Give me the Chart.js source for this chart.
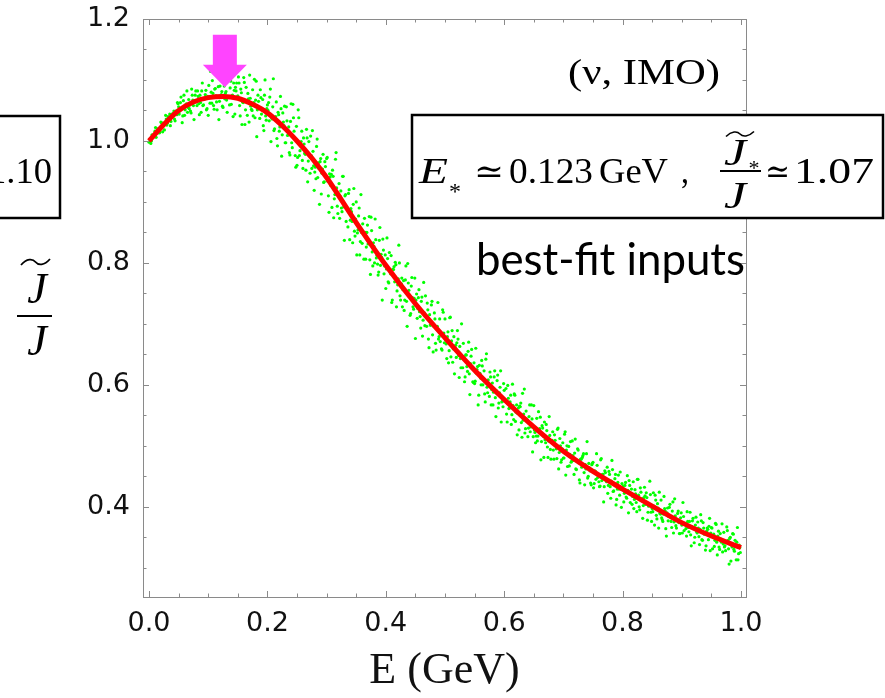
<!DOCTYPE html>
<html>
<head>
<meta charset="utf-8">
<script src="https://cdn.jsdelivr.net/npm/chart.js@4.4.1/dist/chart.umd.min.js"></script>
<style>
  html, body { margin: 0; padding: 0; background: #fff; }
  canvas { display: block; }
</style>
</head>
<body>
<canvas id="chartJ" width="885" height="698"></canvas>
<script>
// fitted curve J~/J versus E (GeV)
const curveE = [0, 0.025, 0.05, 0.075, 0.1, 0.125, 0.15, 0.175, 0.2, 0.225, 0.25, 0.275, 0.3,
  0.35, 0.4, 0.45, 0.5, 0.55, 0.6, 0.65, 0.7, 0.75, 0.8, 0.85, 0.9, 0.95, 1.0];
const curveJ = [1.000, 1.027, 1.050, 1.064, 1.071, 1.073, 1.070, 1.060, 1.046, 1.025, 1.000, 0.972, 0.940,
  0.866, 0.796, 0.733, 0.677, 0.624, 0.576, 0.531, 0.491, 0.458, 0.429, 0.401, 0.374, 0.352, 0.333];

// scattered points (green), two passes over the energy range
const scatterE = [
  0.001,0.003,0.005,0.007,0.009,0.011,0.013,0.015,0.017,0.019,0.021,0.023,0.025,0.027,0.029,0.031,0.033,0.035,0.037,0.039,0.041,0.043,0.045,0.047,0.049,
  0.051,0.053,0.055,0.057,0.059,0.061,0.063,0.065,0.067,0.069,0.071,0.073,0.075,0.077,0.079,0.081,0.083,0.085,0.087,0.089,0.091,0.093,0.095,0.097,0.099,
  0.101,0.103,0.105,0.107,0.109,0.111,0.113,0.115,0.117,0.119,0.121,0.123,0.125,0.127,0.129,0.131,0.133,0.135,0.137,0.139,0.141,0.143,0.145,0.147,0.149,
  0.151,0.153,0.155,0.157,0.159,0.161,0.163,0.165,0.167,0.169,0.171,0.173,0.175,0.177,0.179,0.181,0.183,0.185,0.187,0.189,0.191,0.193,0.195,0.197,0.199,
  0.201,0.203,0.205,0.207,0.209,0.211,0.213,0.215,0.217,0.219,0.221,0.223,0.225,0.227,0.229,0.231,0.233,0.235,0.237,0.239,0.241,0.243,0.245,0.247,0.249,
  0.251,0.253,0.255,0.257,0.259,0.261,0.263,0.265,0.267,0.269,0.271,0.273,0.275,0.277,0.279,0.281,0.283,0.285,0.287,0.289,0.291,0.293,0.295,0.297,0.299,
  0.301,0.303,0.305,0.307,0.309,0.311,0.313,0.315,0.317,0.319,0.321,0.323,0.325,0.327,0.329,0.331,0.333,0.335,0.337,0.339,0.341,0.343,0.345,0.347,0.349,
  0.351,0.353,0.355,0.357,0.359,0.361,0.363,0.365,0.367,0.369,0.371,0.373,0.375,0.377,0.379,0.381,0.383,0.385,0.387,0.389,0.391,0.393,0.395,0.397,0.399,
  0.401,0.403,0.405,0.407,0.409,0.411,0.413,0.415,0.417,0.419,0.421,0.423,0.425,0.427,0.429,0.431,0.433,0.435,0.437,0.439,0.441,0.443,0.445,0.447,0.449,
  0.451,0.453,0.455,0.457,0.459,0.461,0.463,0.465,0.467,0.469,0.471,0.473,0.475,0.477,0.479,0.481,0.483,0.485,0.487,0.489,0.491,0.493,0.495,0.497,0.499,
  0.501,0.503,0.505,0.507,0.509,0.511,0.513,0.515,0.517,0.519,0.521,0.523,0.525,0.527,0.529,0.531,0.533,0.535,0.537,0.539,0.541,0.543,0.545,0.547,0.549,
  0.551,0.553,0.555,0.557,0.559,0.561,0.563,0.565,0.567,0.569,0.571,0.573,0.575,0.577,0.579,0.581,0.583,0.585,0.587,0.589,0.591,0.593,0.595,0.597,0.599,
  0.601,0.603,0.605,0.607,0.609,0.611,0.613,0.615,0.617,0.619,0.621,0.623,0.625,0.627,0.629,0.631,0.633,0.635,0.637,0.639,0.641,0.643,0.645,0.647,0.649,
  0.651,0.653,0.655,0.657,0.659,0.661,0.663,0.665,0.667,0.669,0.671,0.673,0.675,0.677,0.679,0.681,0.683,0.685,0.687,0.689,0.691,0.693,0.695,0.697,0.699,
  0.701,0.703,0.705,0.707,0.709,0.711,0.713,0.715,0.717,0.719,0.721,0.723,0.725,0.727,0.729,0.731,0.733,0.735,0.737,0.739,0.741,0.743,0.745,0.747,0.749,
  0.751,0.753,0.755,0.757,0.759,0.761,0.763,0.765,0.767,0.769,0.771,0.773,0.775,0.777,0.779,0.781,0.783,0.785,0.787,0.789,0.791,0.793,0.795,0.797,0.799,
  0.801,0.803,0.805,0.807,0.809,0.811,0.813,0.815,0.817,0.819,0.821,0.823,0.825,0.827,0.829,0.831,0.833,0.835,0.837,0.839,0.841,0.843,0.845,0.847,0.849,
  0.851,0.853,0.855,0.857,0.859,0.861,0.863,0.865,0.867,0.869,0.871,0.873,0.875,0.877,0.879,0.881,0.883,0.885,0.887,0.889,0.891,0.893,0.895,0.897,0.899,
  0.901,0.903,0.905,0.907,0.909,0.911,0.913,0.915,0.917,0.919,0.921,0.923,0.925,0.927,0.929,0.931,0.933,0.935,0.937,0.939,0.941,0.943,0.945,0.947,0.949,
  0.951,0.953,0.955,0.957,0.959,0.961,0.963,0.965,0.967,0.969,0.971,0.973,0.975,0.977,0.979,0.981,0.983,0.985,0.987,0.989,0.991,0.993,0.995,0.997,0.999,
  0.000,0.002,0.004,0.006,0.008,0.010,0.012,0.014,0.016,0.018,0.020,0.022,0.024,0.026,0.028,0.030,0.032,0.034,0.036,0.038,0.040,0.042,0.044,0.046,0.048,
  0.050,0.052,0.054,0.056,0.058,0.060,0.062,0.064,0.066,0.068,0.070,0.072,0.074,0.076,0.078,0.080,0.082,0.084,0.086,0.088,0.090,0.092,0.094,0.096,0.098,
  0.100,0.102,0.104,0.106,0.108,0.110,0.112,0.114,0.116,0.118,0.120,0.122,0.124,0.126,0.128,0.130,0.132,0.134,0.136,0.138,0.140,0.142,0.144,0.146,0.148,
  0.150,0.152,0.154,0.156,0.158,0.160,0.162,0.164,0.166,0.168,0.170,0.172,0.174,0.176,0.178,0.180,0.182,0.184,0.186,0.188,0.190,0.192,0.194,0.196,0.198,
  0.200,0.202,0.204,0.206,0.208,0.210,0.212,0.214,0.216,0.218,0.220,0.222,0.224,0.226,0.228,0.230,0.232,0.234,0.236,0.238,0.240,0.242,0.244,0.246,0.248,
  0.250,0.252,0.254,0.256,0.258,0.260,0.262,0.264,0.266,0.268,0.270,0.272,0.274,0.276,0.278,0.280,0.282,0.284,0.286,0.288,0.290,0.292,0.294,0.296,0.298,
  0.300,0.302,0.304,0.306,0.308,0.310,0.312,0.314,0.316,0.318,0.320,0.322,0.324,0.326,0.328,0.330,0.332,0.334,0.336,0.338,0.340,0.342,0.344,0.346,0.348,
  0.350,0.352,0.354,0.356,0.358,0.360,0.362,0.364,0.366,0.368,0.370,0.372,0.374,0.376,0.378,0.380,0.382,0.384,0.386,0.388,0.390,0.392,0.394,0.396,0.398,
  0.400,0.402,0.404,0.406,0.408,0.410,0.412,0.414,0.416,0.418,0.420,0.422,0.424,0.426,0.428,0.430,0.432,0.434,0.436,0.438,0.440,0.442,0.444,0.446,0.448,
  0.450,0.452,0.454,0.456,0.458,0.460,0.462,0.464,0.466,0.468,0.470,0.472,0.474,0.476,0.478,0.480,0.482,0.484,0.486,0.488,0.490,0.492,0.494,0.496,0.498,
  0.500,0.502,0.504,0.506,0.508,0.510,0.512,0.514,0.516,0.518,0.520,0.522,0.524,0.526,0.528,0.530,0.532,0.534,0.536,0.538,0.540,0.542,0.544,0.546,0.548,
  0.550,0.552,0.554,0.556,0.558,0.560,0.562,0.564,0.566,0.568,0.570,0.572,0.574,0.576,0.578,0.580,0.582,0.584,0.586,0.588,0.590,0.592,0.594,0.596,0.598,
  0.600,0.602,0.604,0.606,0.608,0.610,0.612,0.614,0.616,0.618,0.620,0.622,0.624,0.626,0.628,0.630,0.632,0.634,0.636,0.638,0.640,0.642,0.644,0.646,0.648,
  0.650,0.652,0.654,0.656,0.658,0.660,0.662,0.664,0.666,0.668,0.670,0.672,0.674,0.676,0.678,0.680,0.682,0.684,0.686,0.688,0.690,0.692,0.694,0.696,0.698,
  0.700,0.702,0.704,0.706,0.708,0.710,0.712,0.714,0.716,0.718,0.720,0.722,0.724,0.726,0.728,0.730,0.732,0.734,0.736,0.738,0.740,0.742,0.744,0.746,0.748,
  0.750,0.752,0.754,0.756,0.758,0.760,0.762,0.764,0.766,0.768,0.770,0.772,0.774,0.776,0.778,0.780,0.782,0.784,0.786,0.788,0.790,0.792,0.794,0.796,0.798,
  0.800,0.802,0.804,0.806,0.808,0.810,0.812,0.814,0.816,0.818,0.820,0.822,0.824,0.826,0.828,0.830,0.832,0.834,0.836,0.838,0.840,0.842,0.844,0.846,0.848,
  0.850,0.852,0.854,0.856,0.858,0.860,0.862,0.864,0.866,0.868,0.870,0.872,0.874,0.876,0.878,0.880,0.882,0.884,0.886,0.888,0.890,0.892,0.894,0.896,0.898,
  0.900,0.902,0.904,0.906,0.908,0.910,0.912,0.914,0.916,0.918,0.920,0.922,0.924,0.926,0.928,0.930,0.932,0.934,0.936,0.938,0.940,0.942,0.944,0.946,0.948,
  0.950,0.952,0.954,0.956,0.958,0.960,0.962,0.964,0.966,0.968,0.970,0.972,0.974,0.976,0.978,0.980,0.982,0.984,0.986,0.988,0.990,0.992,0.994,0.996,0.998
];
const scatterJ = [
  1.003,0.996,1.010,1.009,1.007,1.022,1.013,1.020,1.013,1.021,1.030,1.015,1.029,1.027,1.036,1.029,1.035,1.044,1.032,1.043,1.041,1.036,1.049,1.043,1.061,
  1.044,1.063,1.053,1.041,1.075,1.051,1.061,1.047,1.068,1.059,1.046,1.075,1.058,1.066,1.082,1.058,1.073,1.043,1.063,1.082,1.058,1.068,1.076,1.051,1.073,
  1.091,1.062,1.080,1.099,1.058,1.085,1.074,1.051,1.089,1.065,1.112,1.081,1.055,1.090,1.078,1.067,1.105,1.072,1.087,1.060,1.075,1.095,1.044,1.082,1.070,
  1.105,1.058,1.085,1.027,1.063,1.096,1.051,1.066,1.078,1.031,1.070,1.052,1.084,1.063,1.038,1.098,1.051,1.065,1.037,1.071,1.051,1.025,1.075,1.041,1.053,
  1.050,1.033,1.085,1.038,1.056,1.017,1.038,1.064,0.992,1.043,1.023,1.053,1.010,1.031,1.057,0.997,1.033,1.015,0.981,1.032,0.997,1.060,1.016,0.976,1.024,
  0.973,1.038,0.984,0.999,0.968,1.005,0.980,0.952,1.005,0.967,0.978,1.008,0.955,0.983,0.919,0.957,0.991,0.940,0.955,0.966,0.913,0.954,0.932,0.966,0.941,
  0.973,0.910,0.946,0.927,0.891,0.942,0.905,0.970,0.923,0.881,0.930,0.909,0.890,0.942,0.892,0.910,0.868,0.888,0.914,0.838,0.889,0.868,0.896,0.852,0.872,
  0.813,0.854,0.890,0.835,0.850,0.864,0.806,0.850,0.826,0.862,0.837,0.805,0.875,0.818,0.833,0.800,0.838,0.812,0.780,0.837,0.796,0.809,0.839,0.782,0.813,
  0.790,0.807,0.767,0.787,0.812,0.739,0.789,0.769,0.797,0.754,0.774,0.800,0.739,0.775,0.756,0.722,0.772,0.737,0.799,0.755,0.714,0.762,0.743,0.724,0.775,
  0.739,0.709,0.743,0.720,0.693,0.744,0.706,0.718,0.746,0.696,0.723,0.661,0.698,0.731,0.682,0.696,0.708,0.657,0.696,0.675,0.708,0.685,0.657,0.719,0.669,
  0.674,0.643,0.687,0.656,0.711,0.672,0.637,0.679,0.661,0.645,0.689,0.648,0.663,0.628,0.646,0.668,0.605,0.649,0.630,0.655,0.618,0.635,0.658,0.605,0.636,
  0.606,0.619,0.630,0.583,0.619,0.600,0.631,0.610,0.585,0.642,0.596,0.608,0.581,0.613,0.592,0.567,0.613,0.579,0.590,0.616,0.570,0.596,0.539,0.573,0.602,
  0.575,0.594,0.539,0.578,0.562,0.583,0.551,0.566,0.585,0.540,0.567,0.553,0.526,0.564,0.538,0.586,0.552,0.521,0.557,0.542,0.529,0.567,0.531,0.544,0.515,
  0.526,0.505,0.545,0.516,0.525,0.547,0.507,0.529,0.481,0.510,0.535,0.498,0.508,0.517,0.478,0.509,0.493,0.518,0.501,0.479,0.529,0.489,0.500,0.477,0.505,
  0.480,0.523,0.493,0.466,0.499,0.486,0.473,0.508,0.476,0.488,0.462,0.475,0.493,0.444,0.478,0.465,0.484,0.456,0.469,0.487,0.447,0.471,0.459,0.436,0.471,
  0.431,0.459,0.445,0.468,0.453,0.433,0.477,0.443,0.453,0.433,0.456,0.441,0.422,0.458,0.433,0.442,0.461,0.426,0.446,0.403,0.429,0.452,0.419,0.429,0.438,
  0.434,0.422,0.440,0.414,0.427,0.443,0.407,0.429,0.417,0.397,0.428,0.407,0.445,0.419,0.395,0.424,0.413,0.402,0.432,0.404,0.415,0.391,0.404,0.420,0.376,
  0.392,0.401,0.419,0.386,0.405,0.365,0.389,0.411,0.379,0.388,0.397,0.364,0.390,0.377,0.399,0.384,0.366,0.408,0.375,0.385,0.365,0.389,0.374,0.356,0.390,
  0.357,0.384,0.373,0.364,0.392,0.366,0.376,0.354,0.367,0.381,0.341,0.370,0.359,0.375,0.351,0.363,0.377,0.345,0.365,0.356,0.336,0.365,0.346,0.381,0.357,
  0.365,0.351,0.335,0.373,0.342,0.352,0.334,0.356,0.342,0.326,0.358,0.336,0.343,0.361,0.331,0.348,0.311,0.334,0.355,0.327,0.335,0.342,0.313,0.337,0.325,
  0.998,1.002,1.000,1.009,1.007,1.016,1.006,1.017,1.017,1.014,1.031,1.022,1.028,1.018,1.042,1.026,1.040,1.034,1.025,1.041,1.045,1.049,1.033,1.044,1.063,
  1.056,1.049,1.072,1.030,1.066,1.042,1.059,1.082,1.055,1.053,1.049,1.085,1.067,1.035,1.075,1.064,1.082,1.061,1.075,1.047,1.095,1.059,1.070,1.083,1.053,
  1.042,1.071,1.114,1.062,1.078,1.052,1.086,1.064,1.107,1.035,1.090,1.076,1.057,1.102,1.069,1.081,1.047,1.112,1.059,1.098,1.074,1.040,1.083,1.088,1.095,
  1.074,1.095,1.041,1.079,1.064,1.104,1.027,1.088,1.042,1.069,1.108,1.057,1.050,1.041,1.101,1.067,1.007,1.075,1.054,1.084,1.044,1.068,1.017,1.100,1.034,
  1.059,1.063,1.072,0.999,1.036,1.102,1.020,1.040,1.004,1.047,1.016,1.073,0.975,1.046,1.025,0.997,1.056,1.009,1.023,0.977,1.061,0.989,1.038,1.004,0.957,
  0.960,1.051,0.976,0.993,1.016,0.955,0.995,0.978,1.019,0.933,0.999,0.947,0.976,1.017,0.959,0.949,0.938,1.003,0.964,0.896,0.971,0.947,0.978,0.933,0.958,
  0.971,0.934,0.883,0.941,0.945,0.952,0.874,0.912,0.981,0.893,0.913,0.873,0.918,0.884,0.942,0.837,0.912,0.889,0.859,0.920,0.870,0.884,0.833,0.922,0.844,
  0.900,0.849,0.877,0.813,0.912,0.832,0.849,0.873,0.806,0.850,0.831,0.876,0.781,0.853,0.795,0.827,0.872,0.808,0.798,0.785,0.858,0.814,0.739,0.821,0.795,
  0.758,0.841,0.769,0.817,0.782,0.735,0.790,0.794,0.801,0.728,0.764,0.829,0.746,0.766,0.728,0.771,0.739,0.795,0.696,0.767,0.745,0.717,0.776,0.728,0.742,
  0.676,0.749,0.725,0.756,0.712,0.737,0.680,0.768,0.697,0.713,0.734,0.675,0.715,0.698,0.737,0.654,0.718,0.668,0.695,0.735,0.679,0.671,0.659,0.723,0.685,
  0.708,0.667,0.679,0.636,0.710,0.646,0.689,0.659,0.618,0.665,0.669,0.675,0.612,0.643,0.700,0.628,0.646,0.613,0.649,0.622,0.670,0.584,0.647,0.628,0.604,
  0.602,0.660,0.625,0.567,0.632,0.611,0.640,0.600,0.623,0.572,0.651,0.587,0.601,0.621,0.567,0.603,0.588,0.623,0.548,0.607,0.562,0.587,0.623,0.572,0.564,
  0.591,0.574,0.552,0.599,0.561,0.572,0.535,0.601,0.543,0.583,0.555,0.518,0.562,0.565,0.570,0.514,0.542,0.593,0.528,0.544,0.515,0.548,0.523,0.567,0.490,
  0.566,0.522,0.516,0.508,0.556,0.528,0.477,0.533,0.516,0.539,0.505,0.525,0.481,0.548,0.494,0.506,0.523,0.478,0.509,0.495,0.527,0.462,0.512,0.473,0.495,
  0.480,0.519,0.452,0.500,0.486,0.467,0.507,0.475,0.484,0.453,0.511,0.461,0.495,0.472,0.439,0.478,0.481,0.487,0.436,0.462,0.507,0.450,0.464,0.439,0.469,
  0.473,0.438,0.458,0.487,0.448,0.441,0.434,0.479,0.453,0.408,0.459,0.443,0.465,0.435,0.453,0.414,0.476,0.425,0.437,0.453,0.412,0.440,0.429,0.457,0.399,
  0.431,0.408,0.435,0.416,0.451,0.390,0.435,0.422,0.404,0.441,0.412,0.421,0.392,0.445,0.400,0.431,0.410,0.381,0.415,0.418,0.423,0.378,0.401,0.442,0.391,
  0.397,0.423,0.370,0.411,0.380,0.398,0.424,0.388,0.382,0.376,0.417,0.393,0.352,0.398,0.384,0.404,0.376,0.393,0.357,0.413,0.369,0.379,0.393,0.356,0.382,
  0.370,0.407,0.361,0.373,0.352,0.376,0.359,0.391,0.336,0.377,0.365,0.350,0.383,0.357,0.365,0.338,0.387,0.346,0.374,0.355,0.329,0.360,0.363,0.368,0.328,
  0.366,0.331,0.355,0.345,0.371,0.321,0.360,0.330,0.347,0.372,0.339,0.334,0.328,0.367,0.345,0.306,0.350,0.337,0.356,0.330,0.345,0.313,0.366,0.323,0.333
];

const xTicks = [0, 0.2, 0.4, 0.6, 0.8, 1.0];
const yTicks = [0.4, 0.6, 0.8, 1.0, 1.2];
const eStar = 0.123;   // GeV
const jStar = 1.07;
const jBox = 1.10;     // value shown in the clipped neighbouring panel

const serif = '"Liberation Serif", "DejaVu Serif", serif';
const tickFont = { family: '"DejaVu Sans", "Liberation Sans", sans-serif', size: 27 };

// draw text squeezed/stretched so it spans x0..x1
function fitText(ctx, text, font, x0, x1, y) {
  ctx.save();
  ctx.font = font;
  ctx.textAlign = 'left';
  const w = ctx.measureText(text).width;
  ctx.translate(x0, y);
  ctx.scale((x1 - x0) / w, 1);
  ctx.fillText(text, 0, 0);
  ctx.restore();
}

function tilde(ctx, x0, x1, yc, h) {
  const w = x1 - x0;
  ctx.beginPath();
  ctx.moveTo(x0, yc + h);
  ctx.bezierCurveTo(x0 + w * 0.2, yc - h * 1.2, x0 + w * 0.4, yc - h * 1.2, x0 + w * 0.5, yc);
  ctx.bezierCurveTo(x0 + w * 0.6, yc + h * 1.2, x0 + w * 0.8, yc + h * 1.2, x1, yc - h);
  ctx.stroke();
}

// inward frame ticks, Mathematica style
const framePlugin = {
  id: 'frame',
  afterDatasetsDraw(chart) {
    const { ctx, chartArea: a, scales: { x, y } } = chart;
    ctx.save();
    ctx.strokeStyle = '#8a8a8a';
    ctx.lineWidth = 1;
    ctx.strokeRect(Math.round(a.left) + 0.5, Math.round(a.top) + 0.5,
      Math.round(a.right - a.left), Math.round(a.bottom - a.top));
    ctx.beginPath();
    for (let i = 0; i <= 20; i++) {
      const px = Math.round(x.getPixelForValue(i * 0.05)) + 0.5;
      const len = i % 4 === 0 ? 6 : 3.5;
      ctx.moveTo(px, a.bottom); ctx.lineTo(px, a.bottom - len);
      ctx.moveTo(px, a.top); ctx.lineTo(px, a.top + len);
    }
    for (let i = 6; i <= 24; i++) {
      const py = Math.round(y.getPixelForValue(i * 0.05)) + 0.5;
      const len = i % 4 === 0 ? 6 : 3.5;
      ctx.moveTo(a.left, py); ctx.lineTo(a.left + len, py);
      ctx.moveTo(a.right, py); ctx.lineTo(a.right - len, py);
    }
    ctx.stroke();
    ctx.restore();
  }
};

const notesPlugin = {
  id: 'notes',
  afterDraw(chart) {
    const { ctx, scales: { x, y } } = chart;
    ctx.save();
    ctx.fillStyle = '#000';
    ctx.strokeStyle = '#000';

    // y axis label: J~ / J
    ctx.font = 'italic 44px ' + serif;
    ctx.textAlign = 'center';
    ctx.textBaseline = 'alphabetic';
    ctx.fillText('J', 37, 303);
    ctx.fillText('J', 37, 355);
    ctx.lineWidth = 1.8;
    tilde(ctx, 21, 50, 262, 3);
    ctx.fillRect(17, 315, 35, 2);

    // arrow marking E*
    const ax = x.getPixelForValue(eStar) + 3;
    const tip = y.getPixelForValue(1.088);
    const neck = y.getPixelForValue(1.125);
    const top = y.getPixelForValue(1.174);
    ctx.fillStyle = '#ff44ff';
    ctx.beginPath();
    ctx.moveTo(ax - 12, top);
    ctx.lineTo(ax + 12, top);
    ctx.lineTo(ax + 12, neck);
    ctx.lineTo(ax + 22, neck);
    ctx.lineTo(ax, tip);
    ctx.lineTo(ax - 22, neck);
    ctx.lineTo(ax - 12, neck);
    ctx.closePath();
    ctx.fill();
    ctx.fillStyle = '#000';

    // (nu, IMO)
    fitText(ctx, '(\u03BD, IMO)', '35px ' + serif, 568, 720, 84);

    // left, clipped box from neighbouring panel
    ctx.lineWidth = 2.5;
    ctx.strokeRect(-10, 116, 70, 102);
    fitText(ctx, jBox.toFixed(2), '35px ' + serif, -12, 52, 183);

    // right box
    ctx.fillStyle = '#fff';
    ctx.fillRect(412, 115, 471, 103);
    ctx.fillStyle = '#000';
    ctx.strokeRect(412, 115, 471, 103);
    fitText(ctx, 'E', 'italic 36px ' + serif, 419, 448, 183);
    ctx.font = '24px ' + serif;
    ctx.textAlign = 'center';
    ctx.fillText('*', 455, 199);
    fitText(ctx, '\u2243', '34px "DejaVu Serif", serif', 474, 504, 183);
    fitText(ctx, eStar.toFixed(3), '36px ' + serif, 509, 593, 183);
    fitText(ctx, 'GeV', '36px ' + serif, 599, 668, 183);
    fitText(ctx, ',', '36px ' + serif, 681, 689, 183);
    fitText(ctx, 'J', 'italic 38px ' + serif, 724, 746, 165);
    fitText(ctx, 'J', 'italic 38px ' + serif, 724, 746, 208);
    ctx.lineWidth = 1.6;
    tilde(ctx, 726, 754, 134, 2.5);
    ctx.font = '22px ' + serif;
    ctx.textAlign = 'center';
    ctx.fillText('*', 754, 175);
    ctx.fillRect(720, 170, 41, 2);
    fitText(ctx, '\u2243', '34px "DejaVu Serif", serif', 765, 790, 183);
    fitText(ctx, jStar.toFixed(2), '36px ' + serif, 794, 874, 183);

    // best-fit inputs
    fitText(ctx, 'best-fit inputs', '44px Lato, "Open Sans", sans-serif', 476, 745, 275);
    ctx.restore();
  }
};

const config = {
  type: 'scatter',
  data: {
    datasets: [
      {
        type: 'line',
        label: 'fit',
        data: curveE.map((e, i) => ({ x: e, y: curveJ[i] })),
        borderColor: '#ff0000',
        borderWidth: 5,
        pointRadius: 0,
        cubicInterpolationMode: 'monotone',
        fill: false,
        order: 0
      },
      {
        label: 'scan',
        data: scatterE.map((e, i) => ({ x: e, y: scatterJ[i] })),
        backgroundColor: '#00ff00',
        borderWidth: 0,
        pointRadius: 1.6,
        order: 1
      }
    ]
  },
  options: {
    responsive: false,
    animation: false,
    layout: { padding: { top: 19, right: 139, left: 0, bottom: 0 } },
    plugins: {
      legend: { display: false },
      tooltip: { enabled: false }
    },
    scales: {
      x: {
        type: 'linear',
        min: -0.0102,
        max: 1.0085,
        afterBuildTicks: (s) => { s.ticks = xTicks.map(v => ({ value: v })); },
        afterFit: (s) => { s.height = 101; s.paddingLeft = 0; s.paddingRight = 0; },
        grid: { display: false, drawTicks: false },
        border: { display: false },
        ticks: {
          padding: 11,
          color: '#111',
          font: tickFont,
          callback: (v) => Number(v).toFixed(1)
        },
        title: {
          display: true,
          text: 'E (GeV)',
          color: '#111',
          font: { family: serif, size: 44 },
          padding: { top: 0, bottom: 0 }
        }
      },
      y: {
        type: 'linear',
        min: 0.252,
        max: 1.2,
        afterBuildTicks: (s) => { s.ticks = yTicks.map(v => ({ value: v })); },
        afterFit: (s) => { s.width = 143; s.paddingTop = 0; s.paddingBottom = 0; },
        grid: { display: false, drawTicks: false },
        border: { display: false },
        ticks: {
          padding: 13,
          color: '#111',
          font: tickFont,
          callback: (v) => Number(v).toFixed(1)
        }
      }
    }
  },
  plugins: [framePlugin, notesPlugin]
};

new Chart(document.getElementById('chartJ'), config);
</script>
</body>
</html>
